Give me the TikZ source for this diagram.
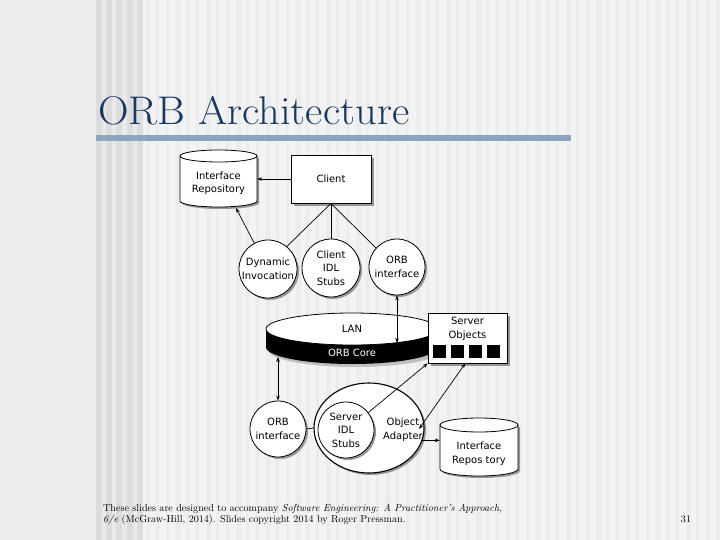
\documentclass[tikz,border=0pt]{standalone}
\usepackage{fontspec}
\newfontfamily\dejavu{DejaVu Sans}
\usetikzlibrary{arrows.meta,shadows,shapes.geometric}
\definecolor{titleblue}{RGB}{23,55,94}
\definecolor{barblue}{RGB}{141,164,192}
\definecolor{bgleft}{RGB}{236,236,236}
\definecolor{bgright}{RGB}{243,243,243}
\definecolor{bgband}{RGB}{233,233,233}
\definecolor{stripedark}{RGB}{220,220,220}
\definecolor{stripefaint}{RGB}{236,236,236}
\definecolor{shadowgray}{RGB}{150,150,150}
\begin{document}
\begin{tikzpicture}[x=1pt,y=-1pt,
  lbl/.style={font=\dejavu\fontsize{10}{13.5}\selectfont, align=center, text=black, inner sep=0pt},
  bubble/.style={circle, draw=black, line width=0.8pt, fill=white, inner sep=0pt,
    drop shadow={shadow xshift=2pt, shadow yshift=-2pt, fill=shadowgray, opacity=1}},
  box/.style={rectangle, draw=black, line width=0.8pt, fill=white, inner sep=0pt,
    drop shadow={shadow xshift=3pt, shadow yshift=-3pt, fill=shadowgray, opacity=1}},
  conn/.style={line width=0.7pt},
  arr/.style={line width=0.7pt, -{Stealth[length=5pt,width=3.6pt]}},
  darr/.style={line width=0.7pt, {Stealth[length=5pt,width=3.6pt]}-{Stealth[length=5pt,width=3.6pt]}},
  cyl/.style={fill=white, draw=black, line width=0.8pt}
]
\useasboundingbox (0,0) rectangle (720,540);
% background
\fill[bgleft] (0,0) rectangle (720,540);
\fill[bgright] (142,0) rectangle (720,540);
\fill[bgband] (96,0) rectangle (142,540);
\foreach \x in {96,106,116,127,137} { \fill[stripedark] (\x,0) rectangle ++(5.5,540); }
\foreach \i in {0,...,57} {
  \pgfmathsetmacro{\w}{mod(\i,3)==0 ? 5 : 3}
  \fill[stripefaint] ({146+10*\i},0) rectangle ++(\w,540);
}
% title
\node[anchor=base west, text=titleblue, font=\fontsize{40}{42}\selectfont, inner sep=0pt, xscale=1.06] (title) at (98,125) {ORB Architecture};
\fill[barblue] (96,135) rectangle (571,141);

% top interface repository cylinder
\fill[shadowgray] (182,158) -- (182,203) arc[start angle=180, end angle=0, x radius=38.5, y radius=6] -- (259,158) -- cycle;
\path[cyl] (180,156) -- (180,201) arc[start angle=180, end angle=0, x radius=38.5, y radius=6]
  -- (257,156) arc[start angle=0, end angle=-180, x radius=38.5, y radius=6] -- cycle;
\draw[line width=0.8pt] (180,156) arc[start angle=180, end angle=0, x radius=38.5, y radius=6];
\node[lbl, minimum width=77pt, minimum height=57pt] (repo) at (218.5,183) {Interface\\Repository};

% client
\node[box, lbl, minimum width=80pt, minimum height=48pt] (client) at (331,179) {Client};

% client side bubbles
\node[bubble, lbl, minimum size=58pt] (dyn) at (268,269) {Dynamic\\Invocation};
\node[bubble, lbl, minimum size=58pt] (stubs) at (331,268) {Client\\IDL\\Stubs};
\node[bubble, lbl, minimum size=56pt] (orbi) at (397,267) {ORB\\interface};

\draw[conn] (client.south) -- (dyn.50);
\draw[conn] (client.south) -- (stubs.north);
\draw[conn] (client.south) -- (orbi.138);
\draw[arr] (client.west) -- (client.west -| repo.east);
\coordinate (repoB) at (236,208);
\draw[arr] (dyn.118) -- (repoB);

% LAN / ORB core disc
\fill[black!25] (355,350) ellipse [x radius=87, y radius=17];
\fill[black] (352,347) ellipse [x radius=86, y radius=17];
\fill[black] (266,329) rectangle (438,347);
\filldraw[fill=white, draw=black, line width=0.8pt] (352,329) ellipse [x radius=86, y radius=16];
\node[lbl] (lan) at (352,329) {LAN};
\node[lbl, text=white] (core) at (352,353) {ORB Core};
\coordinate (lanR) at (397,343);
\coordinate (lanL) at (278,357);

% server objects
\node[box, minimum width=79pt, minimum height=50pt] (so) at (467.5,338) {};
\node[lbl] (sotext) at (467.5,329) {Server\\Objects};
\foreach \x in {433,451,469,487} { \fill[black] (\x,345) rectangle ++(13,13); }

\draw[darr] (orbi.south) -- (lanR);

% server side
\node[bubble, lbl, minimum size=56pt] (orb2) at (278,429) {ORB\\interface};
\node[ellipse, draw=black, line width=1.1pt, fill=white, minimum width=110pt, minimum height=90pt,
  drop shadow={shadow xshift=2pt, shadow yshift=-2pt, fill=shadowgray, opacity=1}] (oa) at (369,428) {};
\node[bubble, lbl, minimum size=56pt] (sis) at (346,430) {Server\\IDL\\Stubs};
\node[lbl] (oatext) at (403,429.5) {Object\\Adapter};

\draw[darr] (lanL) -- (orb2.north);
\draw[conn] (orb2.east) -- (oa.west);

% bottom interface repository cylinder
\fill[shadowgray] (442,427) -- (442,471) arc[start angle=180, end angle=0, x radius=39, y radius=7] -- (520,427) -- cycle;
\path[cyl] (440,425) -- (440,469) arc[start angle=180, end angle=0, x radius=39, y radius=7]
  -- (518,425) arc[start angle=0, end angle=-180, x radius=39, y radius=7] -- cycle;
\draw[line width=0.8pt] (440,425) arc[start angle=180, end angle=0, x radius=39, y radius=7];
\node[lbl, minimum width=78pt, minimum height=58pt] (irb) at (479,453.5) {Interface\\Repos tory};

\coordinate (oaIn) at (419,429);
\draw[arr] (sis.38) -- (so.south west);
\draw[darr] (oaIn) -- (so.-95);
\draw[arr] (oa.-13) -- (oa.-13 -| irb.west);

% footer
\node[anchor=base west, inner sep=0pt, font=\fontsize{10.1}{12}\selectfont] (foot1) at (103,511)
  {These slides are designed to accompany \textit{Software Engineering: A Practitioner's Approach,}};
\node[anchor=base west, inner sep=0pt, font=\fontsize{10.1}{12}\selectfont] (foot2) at (103,522)
  {\textit{6/e} (McGraw-Hill, 2014). Slides copyright 2014 by Roger Pressman.};
\node[anchor=base, inner sep=0pt, font=\fontsize{10.1}{12}\selectfont] (pg) at (686,522) {31};
\end{tikzpicture}
\end{document}
